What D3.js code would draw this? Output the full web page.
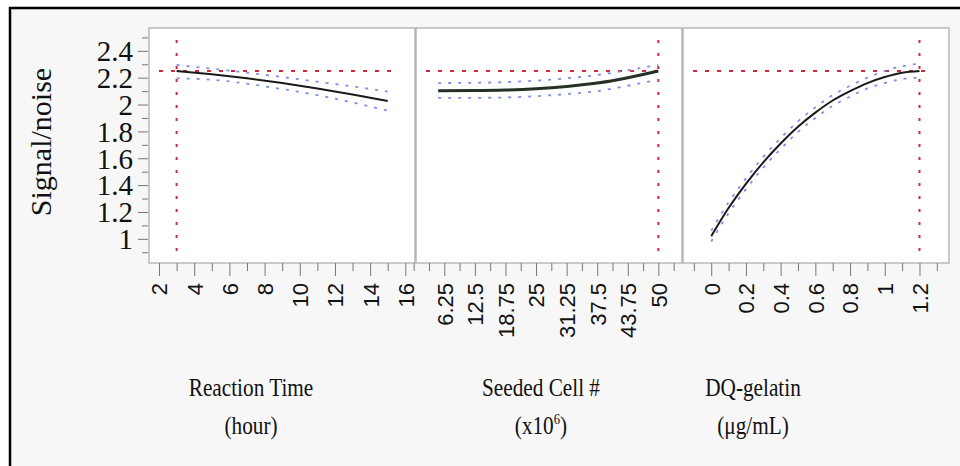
<!DOCTYPE html>
<html>
<head>
<meta charset="utf-8">
<script src="https://cdn.jsdelivr.net/npm/d3@7"></script>
<style>
  html, body { margin: 0; padding: 0; background: #ffffff; }
  svg { display: block; }
</style>
</head>
<body>
<script>
// ---------------- data ----------------
const yAxisTitle = "Signal/noise";
const yTickValues = [1, 1.2, 1.4, 1.6, 1.8, 2, 2.2, 2.4];
const yTickLabels = ["1", "1.2", "1.4", "1.6", "1.8", "2", "2.2", "2.4"];
const yMinorTicks = [0.9, 1.1, 1.3, 1.5, 1.7, 1.9, 2.1, 2.3, 2.5];

const factorNames = ["Reaction Time", "Seeded Cell #", "DQ-gelatin"];
const factorUnits = ["(hour)", "(x10^6)", "(μg/mL)"];

const timeTicks = [2, 4, 6, 8, 10, 12, 14, 16];
const timeTickLabels = ["2", "4", "6", "8", "10", "12", "14", "16"];
const timeMinorTicks = [3, 5, 7, 9, 11, 13, 15];
const timeX     = [3, 5, 7, 9, 11, 13, 15];
const timePred  = [2.25, 2.225, 2.195, 2.16, 2.12, 2.075, 2.027];
const timeUpper = [2.295, 2.267, 2.237, 2.205, 2.17, 2.135, 2.096];
const timeLower = [2.195, 2.185, 2.155, 2.115, 2.07, 2.015, 1.955];

const cellTicks = [6.25, 12.5, 18.75, 25, 31.25, 37.5, 43.75, 50];
const cellTickLabels = ["6.25", "12.5", "18.75", "25", "31.25", "37.5", "43.75", "50"];
const cellMinorTicks = [0, 3.125, 9.375, 15.625, 21.875, 28.125, 34.375, 40.625, 46.875, 53.125];
const cellX     = [5, 12.5, 18.75, 25, 31.25, 37.5, 43.75, 50];
const cellPred  = [2.103, 2.104, 2.108, 2.118, 2.135, 2.16, 2.2, 2.25];
const cellUpper = [2.16, 2.162, 2.167, 2.178, 2.195, 2.22, 2.255, 2.295];
const cellLower = [2.05, 2.05, 2.053, 2.062, 2.078, 2.1, 2.14, 2.185];

const dqTicks = [0, 0.2, 0.4, 0.6, 0.8, 1, 1.2];
const dqTickLabels = ["0", "0.2", "0.4", "0.6", "0.8", "1", "1.2"];
const dqMinorTicks = [-0.1, 0.1, 0.3, 0.5, 0.7, 0.9, 1.1, 1.3];
const dqX     = [0, 0.1, 0.2, 0.3, 0.4, 0.5, 0.6, 0.7, 0.8, 0.9, 1.0, 1.1, 1.2];
const dqPred  = [1.02, 1.23, 1.41, 1.57, 1.71, 1.835, 1.94, 2.03, 2.1, 2.16, 2.205, 2.237, 2.25];
const dqUpper = [1.06, 1.27, 1.45, 1.61, 1.75, 1.875, 1.98, 2.07, 2.14, 2.2, 2.25, 2.285, 2.305];
const dqLower = [0.98, 1.19, 1.37, 1.53, 1.67, 1.795, 1.9, 1.99, 2.06, 2.12, 2.16, 2.19, 2.2];

const refY = 2.25;
const refX = [3, 50, 1.2];

// ---------------- layout ----------------
const W = 960, H = 466;
const panelTop = 28, panelBottom = 263;
const panelLeft = [149, 416, 683];
const panelW = 266;

const svg = d3.select("body").append("svg")
  .attr("width", W).attr("height", H);

svg.append("rect").attr("x", 10).attr("y", 8).attr("width", W - 10).attr("height", H - 8)
  .attr("fill", "#f7f7f7");
svg.append("path").attr("d", `M10,${H} L10,8 L${W},8`)
  .attr("fill", "none").attr("stroke", "#000").attr("stroke-width", 2.5);

const y = d3.scaleLinear().domain([0.82, 2.57]).range([panelBottom, panelTop]);

const panels = [
  { name: factorNames[0], unit: factorUnits[0], domain: [1.43, 16.55],
    ticks: timeTicks, labels: timeTickLabels, minor: timeMinorTicks,
    xs: timeX, pred: timePred, up: timeUpper, lo: timeLower, ref: refX[0], cx: 251 },
  { name: factorNames[1], unit: factorUnits[1], domain: [0.47, 54.83],
    ticks: cellTicks, labels: cellTickLabels, minor: cellMinorTicks,
    xs: cellX, pred: cellPred, up: cellUpper, lo: cellLower, ref: refX[1], cx: 541 },
  { name: factorNames[2], unit: factorUnits[2], domain: [-0.1625, 1.37],
    ticks: dqTicks, labels: dqTickLabels, minor: dqMinorTicks,
    xs: dqX, pred: dqPred, up: dqUpper, lo: dqLower, ref: refX[2], cx: 753 }
];

const red = "#d0283c";
const blue = "#7f8fe6";
const serif = "'Liberation Serif', 'Times New Roman', serif";

panels.forEach((p, i) => {
  const x0 = panelLeft[i];
  const x = d3.scaleLinear().domain(p.domain).range([x0, x0 + panelW]);
  const g = svg.append("g");

  g.append("rect").attr("x", x0).attr("y", panelTop)
    .attr("width", panelW).attr("height", panelBottom - panelTop)
    .attr("fill", "#fff").attr("stroke", "#a8a8a8").attr("stroke-width", 1.2);

  const axMajor = d3.axisBottom(x).tickValues(p.ticks).tickSize(13).tickFormat((d, k) => p.labels[k]);
  const ag = g.append("g").attr("transform", `translate(0,${panelBottom})`).call(axMajor);
  ag.select(".domain").remove();
  ag.selectAll(".tick line").attr("stroke", "#777").attr("stroke-width", 1);
  ag.selectAll(".tick text")
    .attr("font-family", "'Liberation Sans', Arial, sans-serif")
    .attr("font-size", 22).attr("fill", "#111")
    .attr("text-anchor", "end")
    .attr("transform", "translate(0,20) rotate(-90)")
    .attr("x", 0).attr("y", 0).attr("dy", "0.36em");
  const axMinor = d3.axisBottom(x).tickValues(p.minor).tickSize(8).tickFormat("");
  const mg = g.append("g").attr("transform", `translate(0,${panelBottom})`).call(axMinor);
  mg.select(".domain").remove();
  mg.selectAll(".tick line").attr("stroke", "#777").attr("stroke-width", 1);

  g.append("line").attr("x1", x0 + 10).attr("x2", x0 + panelW - 19)
    .attr("y1", y(refY)).attr("y2", y(refY))
    .attr("stroke", red).attr("stroke-width", 2).attr("stroke-dasharray", "4,8");
  g.append("line").attr("x1", x(p.ref)).attr("x2", x(p.ref))
    .attr("y1", 40).attr("y2", 254)
    .attr("stroke", red).attr("stroke-width", 2).attr("stroke-dasharray", "3,10");

  const line = (vals) => d3.line().x((d, k) => x(p.xs[k])).y(d => y(d)).curve(d3.curveMonotoneX)(vals);
  g.append("path").attr("d", line(p.up)).attr("fill", "none")
    .attr("stroke", blue).attr("stroke-width", 1.8).attr("stroke-dasharray", "3,7");
  g.append("path").attr("d", line(p.lo)).attr("fill", "none")
    .attr("stroke", blue).attr("stroke-width", 1.8).attr("stroke-dasharray", "3,7");
  g.append("path").attr("d", line(p.pred)).attr("fill", "none")
    .attr("stroke", i === 1 ? "#263026" : "#1a1a1a").attr("stroke-width", i === 1 ? 3 : 2);

  g.append("text").attr("transform", `translate(${p.cx},396) scale(0.85,1)`)
    .attr("text-anchor", "middle")
    .attr("font-family", serif).attr("font-size", 25).attr("fill", "#111").text(p.name);
  const ut = g.append("text").attr("transform", `translate(${p.cx},434) scale(0.85,1)`)
    .attr("text-anchor", "middle")
    .attr("font-family", serif).attr("font-size", 25).attr("fill", "#111");
  if (p.unit.indexOf("^") >= 0) {
    const parts = p.unit.split("^");
    ut.append("tspan").text(parts[0]);
    ut.append("tspan").attr("font-size", 15).attr("dy", -10).text(parts[1].replace(")", ""));
    ut.append("tspan").attr("dy", 10).text(")");
  } else {
    ut.text(p.unit);
  }
});

const yAxis = d3.axisLeft(y).tickValues(yTickValues).tickSize(10).tickFormat((d, k) => yTickLabels[k]);
const yg = svg.append("g").attr("transform", `translate(${panelLeft[0] - 1},0)`).call(yAxis);
yg.select(".domain").remove();
yg.selectAll(".tick line").attr("stroke", "#777");
yg.selectAll(".tick text")
  .attr("font-family", serif)
  .attr("font-size", 29).attr("fill", "#111").attr("x", -15).attr("dy", "0.34em");
const yMinor = d3.axisLeft(y).tickValues(yMinorTicks).tickSize(6).tickFormat("");
const ymg = svg.append("g").attr("transform", `translate(${panelLeft[0] - 1},0)`).call(yMinor);
ymg.select(".domain").remove();
ymg.selectAll(".tick line").attr("stroke", "#777");

svg.append("text")
  .attr("transform", "translate(51,142) rotate(-90)")
  .attr("text-anchor", "middle")
  .attr("font-family", serif)
  .attr("font-size", 30).attr("fill", "#111")
  .text(yAxisTitle);
</script>
</body>
</html>
